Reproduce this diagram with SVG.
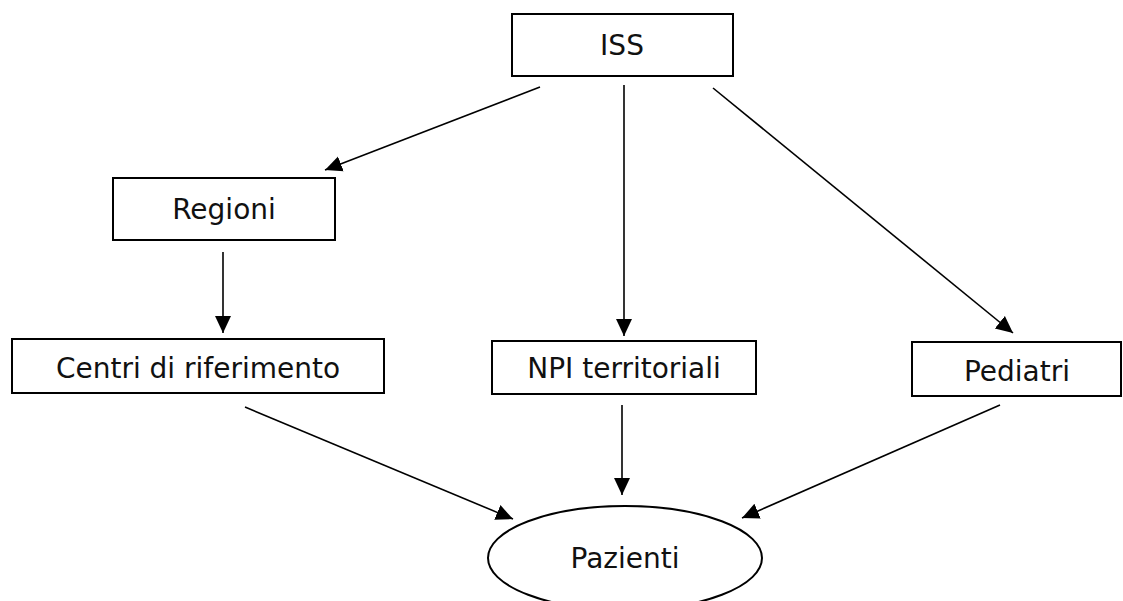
<svg xmlns="http://www.w3.org/2000/svg" width="1123" height="601" viewBox="0 0 1123 601">
<style>
.box{fill:#fff;stroke:#000;stroke-width:2}
.lbl{font-family:"DejaVu Sans",Verdana,sans-serif;font-size:28px;fill:#111;text-anchor:middle}
.edge{stroke:#000;stroke-width:1.6;fill:none;marker-end:url(#ah)}
</style>
<defs>
<marker id="ah" markerUnits="userSpaceOnUse" markerWidth="18" markerHeight="18" viewBox="0 0 18 18" refX="17" refY="9" orient="auto">
<path d="M0,1 L17,9 L0,17 Z" fill="#000"/>
</marker>
</defs>
<rect width="1123" height="601" fill="#fff"/>
<g id="connectors">
<line class="edge" x1="540" y1="87" x2="325" y2="170"/>
<line class="edge" x1="624" y1="85" x2="624" y2="336"/>
<line class="edge" x1="713" y1="88" x2="1013" y2="333"/>
<line class="edge" x1="223" y1="252" x2="223" y2="333"/>
<line class="edge" x1="245" y1="407" x2="513" y2="519"/>
<line class="edge" x1="622" y1="405" x2="622" y2="495"/>
<line class="edge" x1="1000" y1="405" x2="742" y2="518"/>
</g>
<g id="node-iss">
<rect class="box" x="512" y="14" width="221" height="62"/>
<text class="lbl" x="622" y="55">ISS</text>
</g>
<g id="node-regioni">
<rect class="box" x="113" y="178" width="222" height="62"/>
<text class="lbl" x="224" y="219">Regioni</text>
</g>
<g id="node-centri">
<rect class="box" x="12" y="339" width="372" height="54"/>
<text class="lbl" x="198" y="378">Centri di riferimento</text>
</g>
<g id="node-npi">
<rect class="box" x="492" y="341" width="264" height="53"/>
<text class="lbl" x="624" y="378">NPI territoriali</text>
</g>
<g id="node-pediatri">
<rect class="box" x="912" y="342" width="209" height="54"/>
<text class="lbl" x="1017" y="381">Pediatri</text>
</g>
<g id="node-pazienti">
<ellipse class="box" cx="625" cy="558" rx="137" ry="52"/>
<text class="lbl" x="625" y="568">Pazienti</text>
</g>
</svg>
